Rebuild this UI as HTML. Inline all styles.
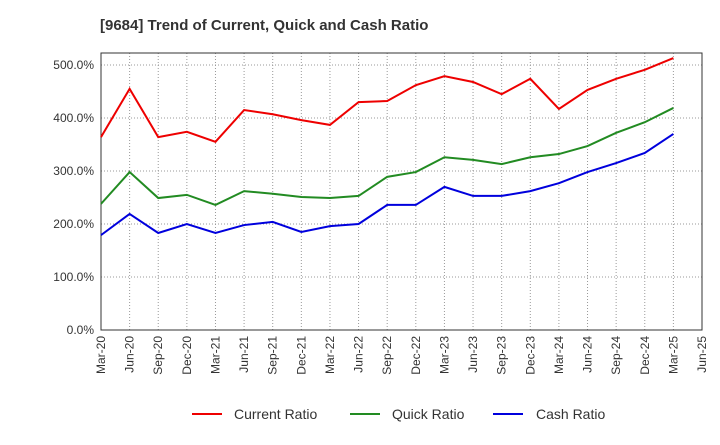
<!DOCTYPE html>
<html><head><meta charset="utf-8"><style>
body{margin:0;background:#fff;font-family:"Liberation Sans",sans-serif}
</style></head><body>
<svg id="chart" width="720" height="440" xmlns="http://www.w3.org/2000/svg">
<text x="100" y="30" font-size="15" font-weight="bold" fill="#333">[9684]  Trend of Current, Quick and Cash Ratio</text>
<g id="grid"></g><g id="axes"></g><g id="series"></g>
<g>
<line x1="192" y1="414" x2="222" y2="414" stroke="#e00" stroke-width="2"/>
<text x="234" y="419" font-size="14" fill="#333">Current Ratio</text>
<line x1="350" y1="414" x2="380" y2="414" stroke="#228b22" stroke-width="2"/>
<text x="392" y="419" font-size="14" fill="#333">Quick Ratio</text>
<line x1="493" y1="414" x2="523" y2="414" stroke="#00d" stroke-width="2"/>
<text x="536" y="419" font-size="14" fill="#333">Cash Ratio</text>
</g>
</svg>
<script>
const categories=["Mar-20","Jun-20","Sep-20","Dec-20","Mar-21","Jun-21","Sep-21","Dec-21","Mar-22","Jun-22","Sep-22","Dec-22","Mar-23","Jun-23","Sep-23","Dec-23","Mar-24","Jun-24","Sep-24","Dec-24","Mar-25","Jun-25"];
const currentRatio=[364,455,364,374,355,415,407,396,387,430,432,462,479,468,445,474,417,453,474,491,513];
const quickRatio=[238,298,249,255,236,262,257,251,249,253,289,298,326,321,313,326,332,347,372,392,419];
const cashRatio=[179,219,183,200,183,198,204,185,196,200,236,236,270,253,253,262,277,298,315,334,370];
const yTicks=[0,100,200,300,400,500];
const NS="http://www.w3.org/2000/svg";
const L=101,R=702,T=53,B=330;
const x=i=>L+i*(R-L)/(categories.length-1);
const y=v=>B-v*0.53;
function mk(tag,attrs,parent){const e=document.createElementNS(NS,tag);for(const k in attrs)e.setAttribute(k,attrs[k]);parent.appendChild(e);return e;}
const grid=document.getElementById('grid'),axes=document.getElementById('axes'),series=document.getElementById('series');
yTicks.forEach(t=>{
 const l=mk('line',{x1:L,x2:R,y1:y(t),y2:y(t),stroke:'#999','stroke-dasharray':'1,2','stroke-width':1},grid);
 
 
 const tx=mk('text',{x:L-7,y:y(t)+4,'font-size':12,fill:'#333','text-anchor':'end'},axes);
 tx.textContent=t.toFixed(1)+'%';
 
 
});
categories.forEach((c,i)=>{
 const l=mk('line',{x1:x(i),x2:x(i),y1:T,y2:B,stroke:'#999','stroke-dasharray':'1,2','stroke-width':1},grid);
 
 
 const tx=mk('text',{x:0,y:0,'font-size':12,fill:'#333','text-anchor':'end',transform:`translate(${x(i)+4},${B+6}) rotate(-90)`},axes);
 tx.textContent=c;
 
 
});
const fr=mk('rect',{x:L,y:T,width:R-L,height:B-T,fill:'none',stroke:'#333','stroke-width':1},axes);


function line(vals,color,name){
 const p=mk('polyline',{points:vals.map((v,i)=>x(i)+','+y(v)).join(' '),fill:'none',stroke:color,'stroke-width':2},series);
 
 
}
line(currentRatio,'#e00','current-ratio-line');
line(quickRatio,'#228b22','quick-ratio-line');
line(cashRatio,'#00d','cash-ratio-line');
</script>
</body></html>
